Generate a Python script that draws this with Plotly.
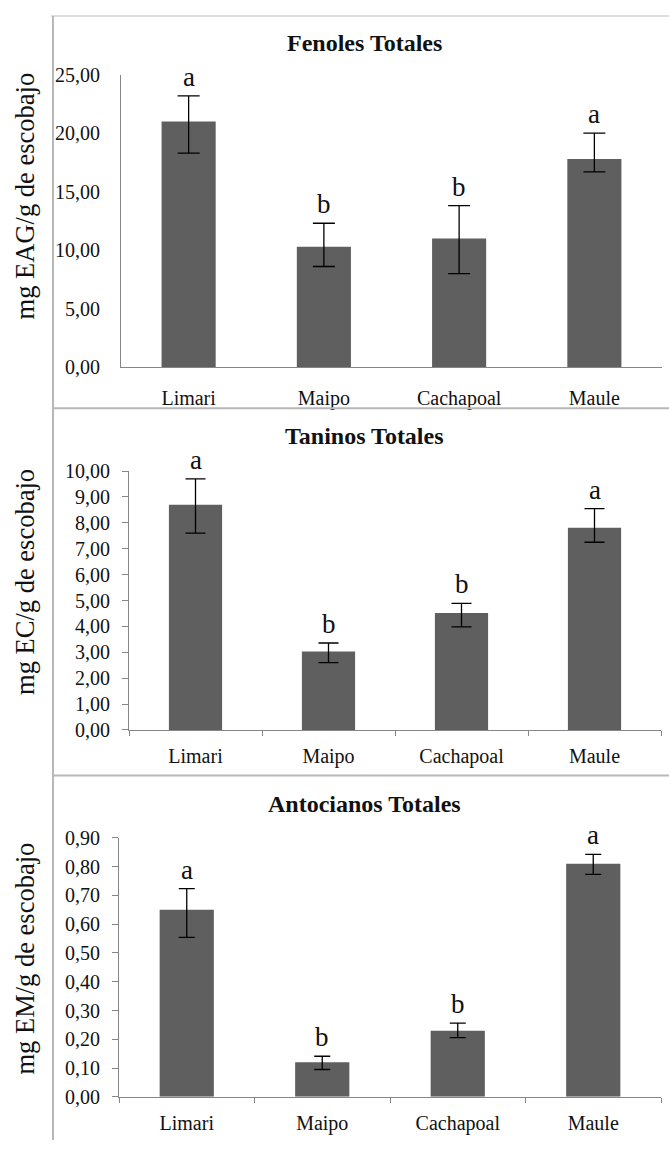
import plotly.graph_objects as go

# Regions sampled
regions = ["Limari", "Maipo", "Cachapoal", "Maule"]

# Fenoles totales (mg EAG/g de escobajo)
fenoles = [21.0, 10.3, 11.0, 17.8]
fenoles_err_up = [2.2, 2.0, 2.8, 2.2]
fenoles_err_down = [2.7, 1.7, 3.0, 1.1]
fenoles_letters = ["a", "b", "b", "a"]

# Taninos totales (mg EC/g de escobajo)
taninos = [8.7, 3.03, 4.52, 7.81]
taninos_err_up = [1.0, 0.33, 0.37, 0.74]
taninos_err_down = [1.1, 0.43, 0.54, 0.56]
taninos_letters = ["a", "b", "b", "a"]

# Antocianos totales (mg EM/g de escobajo)
antocianos = [0.65, 0.12, 0.23, 0.81]
antocianos_err_up = [0.074, 0.021, 0.026, 0.033]
antocianos_err_down = [0.096, 0.025, 0.024, 0.037]
antocianos_letters = ["a", "b", "b", "a"]

W, H = 669, 1151
SERIF = "Liberation Serif"
BAR = "#5f5f5f"
AXIS = "#868686"
FRAME = "#b8b8b8"
INK = "#111111"


def fx(px):
    return px / W


def fy(px):
    return 1 - px / H


panels = [
    dict(title="Fenoles Totales", ytitle="mg EAG/g de escobajo",
         vals=fenoles, up=fenoles_err_up, down=fenoles_err_down, letters=fenoles_letters,
         yrange=[0, 25], dtick=5, x0=121, x1=662, ytop=65, ybot=363,
         title_y=33, ytitle_y=189, ticks=False, cap=11),
    dict(title="Taninos Totales", ytitle="mg EC/g de escobajo",
         vals=taninos, up=taninos_err_up, down=taninos_err_down, letters=taninos_letters,
         yrange=[0, 10], dtick=1, x0=129, x1=661, ytop=469, ybot=733,
         title_y=433, ytitle_y=582, ticks=True, cap=10),
    dict(title="Antocianos Totales", ytitle="mg EM/g de escobajo",
         vals=antocianos, up=antocianos_err_up, down=antocianos_err_down, letters=antocianos_letters,
         yrange=[0, 0.9], dtick=0.1, x0=119, x1=661, ytop=843, ybot=1107,
         title_y=808, ytitle_y=966, ticks=True, cap=8),
]

fig = go.Figure()
annotations = []

for i, p in enumerate(panels, start=1):
    xa = "x" if i == 1 else f"x{i}"
    ya = "y" if i == 1 else f"y{i}"
    fig.add_trace(go.Bar(
        x=regions, y=p["vals"], xaxis=xa, yaxis=ya,
        marker=dict(color=BAR, line=dict(width=0)),
        error_y=dict(type="data", symmetric=False, array=p["up"], arrayminus=p["down"],
                     color="black", thickness=1.3, width=p["cap"]),
        showlegend=False, hoverinfo="skip",
    ))
    key = "" if i == 1 else str(i)
    fig.layout["xaxis" + key] = dict(
        domain=[fx(p["x0"]), fx(p["x1"])], anchor=ya,
        type="category", range=[-0.5, 3.5],
        showline=True, linecolor=AXIS, linewidth=1,
        showgrid=False, zeroline=False,
        ticks="outside" if p["ticks"] else "", tickson="boundaries",
        ticklen=5, tickcolor=AXIS,
        tickfont=dict(family=SERIF, size=20, color=INK),
        ticklabelstandoff=8 if p["ticks"] else 13,
    )
    fig.layout["yaxis" + key] = dict(
        domain=[fy(p["ybot"]), fy(p["ytop"])], anchor=xa,
        range=p["yrange"], dtick=p["dtick"], tick0=0, tickformat=".2f",
        showline=True, linecolor=AXIS, linewidth=1,
        showgrid=False, zeroline=False,
        ticks="outside" if p["ticks"] else "", ticklen=6, tickcolor=AXIS,
        tickfont=dict(family=SERIF, size=20, color=INK),
        ticklabelstandoff=8 if p["ticks"] else 16,
    )
    # significance letters above each error bar
    for r, v, u, lt in zip(regions, p["vals"], p["up"], p["letters"]):
        annotations.append(dict(
            x=r, y=v + u, xref=xa, yref=ya, text=lt, showarrow=False,
            yanchor="bottom", yshift=2,
            font=dict(family=SERIF, size=27, color=INK),
        ))
    # panel title
    annotations.append(dict(
        x=fx(365), y=fy(p["title_y"]), xref="paper", yref="paper",
        text=f"<b>{p['title']}</b>", showarrow=False,
        xanchor="center", yanchor="middle",
        font=dict(family=SERIF, size=24, color=INK),
    ))
    # y axis title
    annotations.append(dict(
        x=fx(25), y=fy(p["ytitle_y"]), xref="paper", yref="paper",
        text=p["ytitle"], showarrow=False, textangle=-90,
        xanchor="center", yanchor="middle",
        font=dict(family=SERIF, size=26.5, color=INK),
    ))

# frame lines around the three panels
shapes = [
    dict(type="line", xref="paper", yref="paper", x0=fx(51), x1=1, y0=fy(5), y1=fy(5),
         line=dict(color="#dedede", width=2)),
    dict(type="line", xref="paper", yref="paper", x0=fx(53), x1=1, y0=fy(405), y1=fy(405),
         line=dict(color=FRAME, width=2)),
    dict(type="line", xref="paper", yref="paper", x0=fx(53), x1=1, y0=fy(779.5), y1=fy(779.5),
         line=dict(color=FRAME, width=2)),
    dict(type="line", xref="paper", yref="paper", x0=fx(53), x1=fx(53), y0=fy(5), y1=0,
         line=dict(color=FRAME, width=2)),
]

fig.update_layout(
    width=W, height=H, margin=dict(l=0, r=0, t=0, b=0),
    paper_bgcolor="white", plot_bgcolor="white",
    bargap=0.6, separators=",.",
    annotations=annotations, shapes=shapes,
)

fig.write_html("out.html")
